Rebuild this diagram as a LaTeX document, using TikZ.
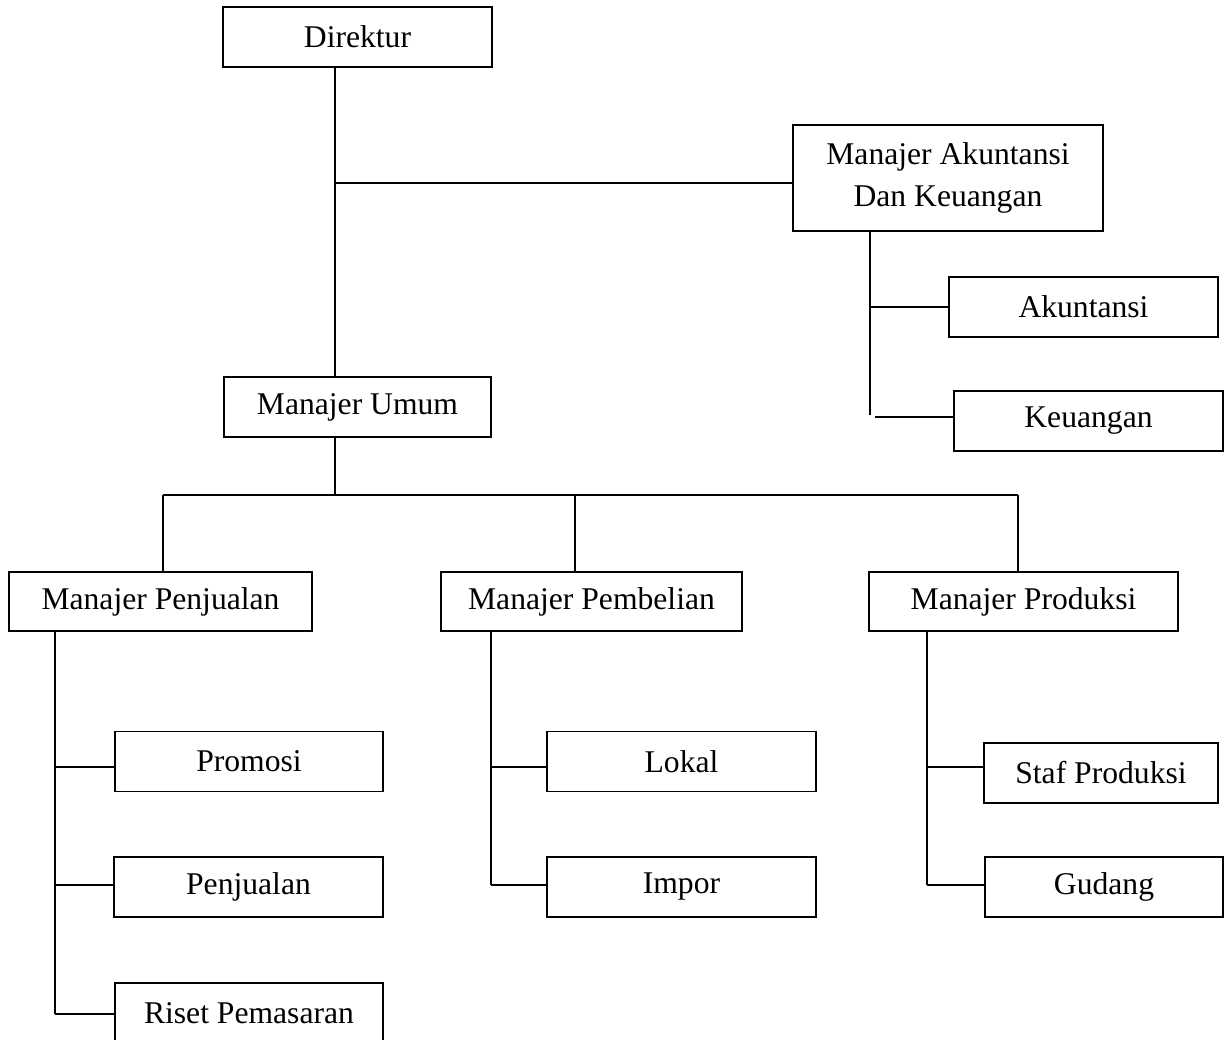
\documentclass[tikz,border=0pt]{standalone}
\usepackage{fontspec}
\setmainfont{Liberation Serif}
\usepackage{tikz}
\usetikzlibrary{positioning,calc}
\tikzset{
  box/.style={draw, line width=1pt, align=center, inner sep=0pt, minimum width=5.38cm, minimum height=1.2cm, fill=white, font=\fontsize{18}{23.8}\selectfont},
  mgr/.style={box, minimum height=1.18cm},
  link/.style={line width=0.9pt}
}

\begin{document}
\begin{tikzpicture}[x=0.02cm, y=-0.02cm]
  \useasboundingbox (0,0) rectangle (1224,1040);

  \node[box] (dir) at (357.5,37) {Direktur};
  \node[box, minimum width=6.2cm, minimum height=2.12cm] (mak) at (948,178) {Manajer Akuntansi\\Dan Keuangan};
  \node[box] (akt) at (1083.5,307) {Akuntansi};
  \node[box] (keu) at (1088.5,421) {Keuangan};
  \node[box, minimum width=5.34cm] (mu) at (357.5,407) {Manajer Umum};

  \node[mgr, minimum width=6.06cm] (mpj) at (160.5,601.5) {Manajer Penjualan};
  \node[mgr, minimum width=6.02cm] (mpb) at (591.5,601.5) {Manajer Pembelian};
  \node[mgr, minimum width=6.18cm] (mpd) at (1023.5,601.5) {Manajer Produksi};

  \node[box, minimum width=5.36cm] (pro) at (249,761.5) {Promosi};
  \node[box] (pjl) at (248.5,887) {Penjualan};
  \node[box, minimum width=5.36cm] (rpm) at (249,1013) {Riset Pemasaran};
  \node[box] (lok) at (681.5,761.5) {Lokal};
  \node[box] (imp) at (681.5,887) {Impor};
  \node[box, minimum width=4.68cm] (sp) at (1101,773) {Staf Produksi};
  \node[box, minimum width=4.76cm] (gud) at (1104,887) {Gudang};

  \coordinate (t1) at (335,183);
  \draw[link] (t1 |- dir.south) -- (t1 |- mu.north);
  \draw[link] (t1) -- (t1 -| mak.west);

  \coordinate (b0) at (335,495);
  \coordinate (b1) at (163,495);
  \coordinate (b2) at (575,495);
  \coordinate (b3) at (1018,495);
  \draw[link] (b0 |- mu.south) -- (b0);
  \draw[link] (b1) -- (b3);
  \foreach \c/\n in {b1/mpj,b2/mpb,b3/mpd}
    \draw[link] (\c) -- (\c |- \n.north);

  \foreach \x/\y/\n [count=\i] in {55/767/pro,55/885/pjl,55/1014/rpm,491/767/lok,491/885/imp,927/767/sp,927/885/gud,870/307/akt,875/417/keu}{
    \coordinate (br\i) at (\x,\y);
    \draw[link] (br\i) -- (br\i -| \n.west);
  }
  \coordinate (kend) at (870,415);
  \draw[link] (br1 |- mpj.south) -- (br3);
  \draw[link] (br4 |- mpb.south) -- (br5);
  \draw[link] (br6 |- mpd.south) -- (br7);
  \draw[link] (br8 |- mak.south) -- (kend);
\end{tikzpicture}
\end{document}
